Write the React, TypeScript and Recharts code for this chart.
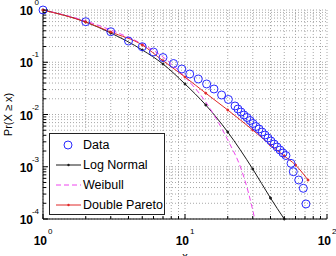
import { ComposedChart, Line, XAxis, YAxis, CartesianGrid, Legend } from "recharts";

const dataX = [1, 2, 3, 4, 5, 6, 7, 8.3, 9.5, 10.8, 12.4, 14.2, 16, 18.1, 20.2, 22.5, 23.6, 24.8, 26, 27.3, 28.7, 30.1, 31.6, 33.2, 34.9, 36.6, 38.4, 40.3, 42.4, 44.5, 46.7, 49, 51.4, 55.8, 57.9, 63.2, 68.1, 71.1];
const dataY = [1, 0.597, 0.384, 0.255, 0.198, 0.157, 0.123, 0.0946, 0.0743, 0.0596, 0.0478, 0.0384, 0.0308, 0.0236, 0.0194, 0.01455, 0.01274, 0.01116, 0.00978, 0.00876, 0.00768, 0.00673, 0.00589, 0.00528, 0.00462, 0.00405, 0.00355, 0.00311, 0.00272, 0.00239, 0.00209, 0.00183, 0.00164, 0.00116, 0.000804, 0.000558, 0.000387, 0.000194];

// fitted models
const logNormalX = [1, 2, 3, 5, 7, 10, 14, 20, 30, 40, 50];
const logNormalY = [1, 0.589, 0.363, 0.172, 0.0925, 0.0384, 0.0152, 0.00462, 0.000906, 0.000252, 0.0001];
const weibullX = [1, 2, 3, 5, 7, 10, 14, 20, 25, 28, 31];
const weibullY = [1, 0.616, 0.414, 0.223, 0.126, 0.0522, 0.0173, 0.00325, 0.000867, 0.000316, 0.0001];
const paretoX = [1, 2, 3, 5, 7, 10, 14, 20, 30, 40, 50, 60, 73.5];
const paretoY = [1, 0.589, 0.379, 0.214, 0.107, 0.0522, 0.0256, 0.0122, 0.00505, 0.00261, 0.00161, 0.00108, 0.000557];

const xTicks = [1, 2, 3, 4, 5, 6, 7, 8, 9, 10, 20, 30, 40, 50, 60, 70, 80, 90, 100];
const yTicks = [
  0.0001, 0.0002, 0.0003, 0.0004, 0.0005, 0.0006, 0.0007, 0.0008, 0.0009,
  0.001, 0.002, 0.003, 0.004, 0.005, 0.006, 0.007, 0.008, 0.009,
  0.01, 0.02, 0.03, 0.04, 0.05, 0.06, 0.07, 0.08, 0.09,
  0.1, 0.2, 0.3, 0.4, 0.5, 0.6, 0.7, 0.8, 0.9, 1,
];
const seriesNames = ["Data", "Log Normal", "Weibull", "Double Pareto"];

const BLUE = "#2a2aff";
const BLACK = "#1a1a1a";
const MAGENTA = "#ee44ee";
const RED = "#e02828";

const zip = (xs: number[], ys: number[]) => xs.map((x, i) => ({ x, y: ys[i] }));
const points = zip(dataX, dataY);
const lnData = zip(logNormalX, logNormalY);
const wbData = zip(weibullX, weibullY);
const dpData = zip(paretoX, paretoY);

function decade(v: number) {
  const l = Math.log10(v);
  const e = Math.round(l);
  return { e, major: Math.abs(l - e) < 1e-6 };
}

const BottomTick = ({ x, y, payload }: any) => {
  const { e, major } = decade(payload.value);
  return (
    <g>
      <line x1={x} y1={y} x2={x} y2={y - (major ? 5 : 3)} stroke="#000" />
      {major && (
        <>
          <text x={x + 4} y={y + 26} textAnchor="end" fontSize={12} fontWeight="bold" fill="#000">10</text>
          <text x={x + 5} y={y + 15} fontSize={8} fill="#000">{e}</text>
        </>
      )}
    </g>
  );
};

const TopTick = ({ x, y, payload }: any) => {
  const { major } = decade(payload.value);
  return <line x1={x} y1={y} x2={x} y2={y + (major ? 5 : 3)} stroke="#000" />;
};

const LeftTick = ({ x, y, payload }: any) => {
  const { e, major } = decade(payload.value);
  return (
    <g>
      <line x1={x} y1={y} x2={x + (major ? 5 : 3)} y2={y} stroke="#000" />
      {major && (
        <>
          <text x={x - 10} y={y + 5} textAnchor="end" fontSize={12} fontWeight="bold" fill="#000">10</text>
          <text x={x - 4} y={y - 5} textAnchor="end" fontSize={8} fill="#000">{e}</text>
        </>
      )}
    </g>
  );
};

const RightTick = ({ x, y, payload }: any) => {
  const { major } = decade(payload.value);
  return <line x1={x} y1={y} x2={x - (major ? 5 : 3)} y2={y} stroke="#000" />;
};

const YLabel = ({ viewBox }: any) => {
  const cy = viewBox.y + viewBox.height / 2;
  return (
    <text transform={`translate(8, ${cy}) rotate(-90)`} textAnchor="middle" dominantBaseline="central" fontSize={11} fill="#000">
      Pr(X ≥ x)
    </text>
  );
};

const XLabel = ({ viewBox }: any) => (
  <text x={viewBox.x + viewBox.width / 2} y={viewBox.y + 41} textAnchor="middle" fontSize={11} fill="#000">x</text>
);

const Circle = (p: any) => (
  <circle key={p.index} cx={p.cx} cy={p.cy} r={4} fill="none" stroke={BLUE} strokeWidth={1} />
);

const LegendBox = () => (
  <div style={{ width: 116, height: 82, boxSizing: "border-box", border: "1px solid #222", background: "#fff", paddingTop: 1 }}>
    {seriesNames.map((name, i) => (
      <div key={name} style={{ display: "flex", alignItems: "center", height: 20 }}>
        <svg width={33} height={20} style={{ flex: "none" }}>
          {i === 0 && <circle cx={18} cy={10} r={4} fill="none" stroke={BLUE} />}
          {i === 1 && <><line x1={6} x2={31} y1={10} y2={10} stroke={BLACK} /><circle cx={18.5} cy={10} r={1.2} fill={BLACK} /></>}
          {i === 2 && <line x1={6} x2={31} y1={10} y2={10} stroke={MAGENTA} strokeDasharray="5 3" />}
          {i === 3 && <><line x1={6} x2={31} y1={10} y2={10} stroke={RED} /><circle cx={18.5} cy={10} r={1.2} fill={RED} /></>}
        </svg>
        <span style={{ fontSize: 12.5, color: "#000", whiteSpace: "nowrap" }}>{name}</span>
      </div>
    ))}
  </div>
);

export default function App() {
  return (
    <div style={{ position: "absolute", left: 0, top: 0, fontFamily: "'Liberation Sans', Arial, sans-serif", background: "#fff" }}>
      <ComposedChart width={336} height={256} margin={{ top: 10, right: 9, bottom: 0, left: 0 }}>
        <CartesianGrid stroke="#a8a8a8" strokeDasharray="1 2" />
        <XAxis dataKey="x" type="number" scale="log" domain={[1, 100]} ticks={xTicks}
          height={37} tickSize={0} tickMargin={0} tickLine={false} axisLine={{ stroke: "#000" }} tick={<BottomTick />} interval={0}
          label={<XLabel />} />
        <XAxis xAxisId="top" orientation="top" type="number" scale="log" domain={[1, 100]} ticks={xTicks}
          height={0} tickSize={0} tickMargin={0} tickLine={false} axisLine={{ stroke: "#000" }} tick={<TopTick />} interval={0} />
        <YAxis dataKey="y" type="number" scale="log" domain={[0.0001, 1]} ticks={yTicks}
          width={43} tickSize={0} tickMargin={0} tickLine={false} axisLine={{ stroke: "#000" }} tick={<LeftTick />} interval={0}
          label={<YLabel />} />
        <YAxis yAxisId="right" orientation="right" type="number" scale="log" domain={[0.0001, 1]} ticks={yTicks}
          width={0} tickSize={0} tickMargin={0} tickLine={false} axisLine={{ stroke: "#000" }} tick={<RightTick />} interval={0} />
        <Line name="Log Normal" data={lnData} dataKey="y" type="monotone" stroke={BLACK} strokeWidth={1}
          dot={{ r: 1, fill: BLACK, stroke: BLACK }} isAnimationActive={false} />
        <Line name="Weibull" data={wbData} dataKey="y" type="monotone" stroke={MAGENTA} strokeWidth={1}
          strokeDasharray="5 3" dot={false} isAnimationActive={false} />
        <Line name="Double Pareto" data={dpData} dataKey="y" type="monotone" stroke={RED} strokeWidth={1}
          dot={{ r: 1, fill: RED, stroke: RED }} isAnimationActive={false} />
        <Line name="Data" data={points} dataKey="y" stroke="none" dot={<Circle />} activeDot={false} isAnimationActive={false} />
        <Legend layout="vertical" align="center" verticalAlign="middle" content={<LegendBox />}
          wrapperStyle={{ left: 49, top: 133, width: 116, height: 82 }} />
      </ComposedChart>
    </div>
  );
}
